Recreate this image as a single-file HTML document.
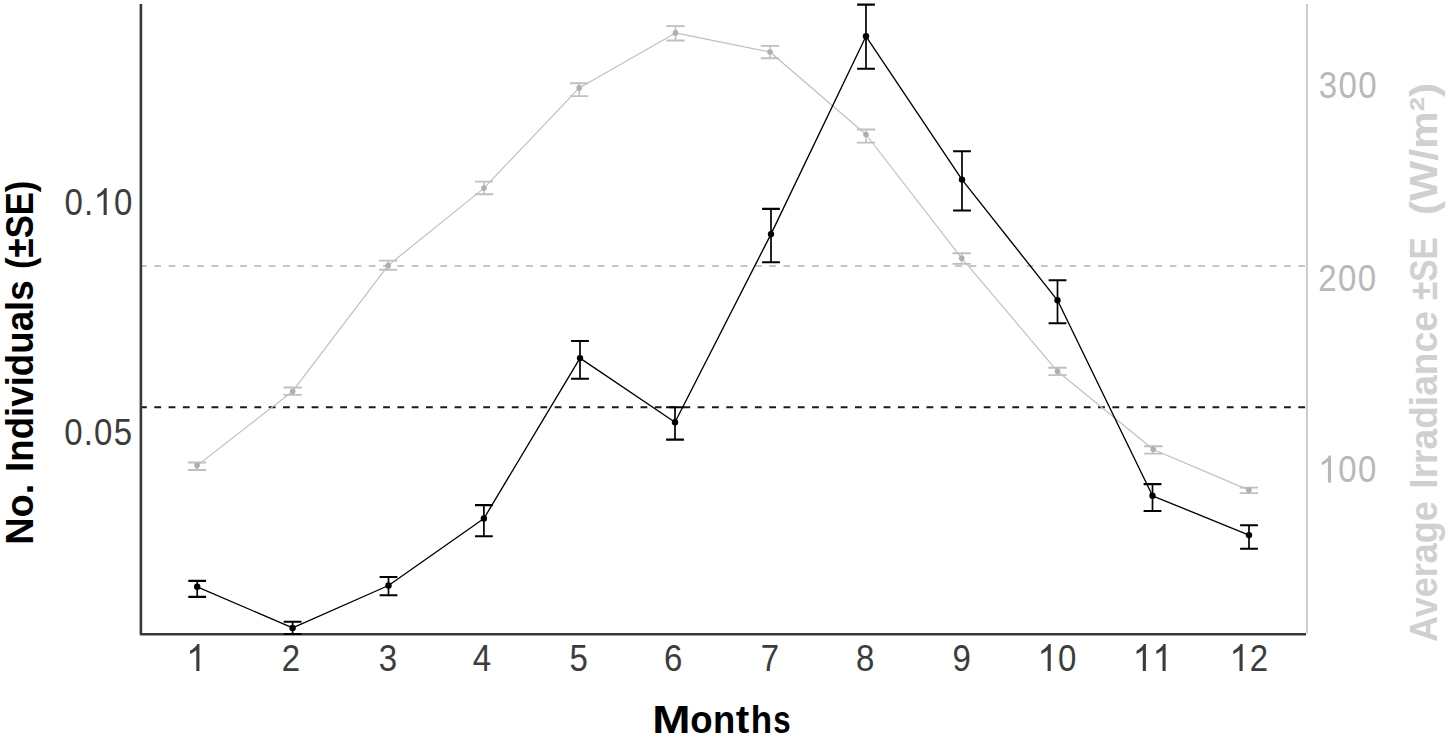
<!DOCTYPE html>
<html><head><meta charset="utf-8"><style>
html,body{margin:0;padding:0;background:#fff;}
svg{display:block;}
text{font-family:"Liberation Sans",sans-serif;}
</style></head><body>
<svg width="1449" height="737" viewBox="0 0 1449 737">
<rect width="1449" height="737" fill="#fff"/>
<line x1="140" y1="266" x2="1306" y2="266" stroke="#c6c6c6" stroke-width="2" stroke-dasharray="6.8 7.5"/>
<line x1="140" y1="407.2" x2="1306" y2="407.2" stroke="#1a1a1a" stroke-width="2" stroke-dasharray="6.8 7.5"/>
<polyline fill="none" stroke="#c0c0c0" stroke-width="1.2" stroke-linejoin="round" points="197,465.6 292.7,391.2 388.2,265.4 484,188.1 579.2,87.9 675.5,32.9 770,52 866,134.5 961.7,258.2 1057.5,371.3 1153.3,449.5 1248.9,490.1"/>
<path fill="none" stroke="#c0c0c0" stroke-width="1.5" d="M197 462.5V470M292.7 387.5V394.9M388.2 260.6V269.7M484 181.6V194.3M579.2 83.3V96.1M675.5 26.1V40.5M770 45.9V58.3M866 129.5V142.6M961.7 253.3V263.9M1057.5 367.7V375.1M1153.3 446.3V453.6M1248.9 487.6V493.1"/>
<path fill="none" stroke="#c0c0c0" stroke-width="1.9" d="M187.8 462.5H206.2M187.8 470H206.2M283.5 387.5H301.9M283.5 394.9H301.9M379 260.6H397.4M379 269.7H397.4M474.8 181.6H493.2M474.8 194.3H493.2M570 83.3H588.4M570 96.1H588.4M666.3 26.1H684.7M666.3 40.5H684.7M760.8 45.9H779.2M760.8 58.3H779.2M856.8 129.5H875.2M856.8 142.6H875.2M952.5 253.3H970.9M952.5 263.9H970.9M1048.3 367.7H1066.7M1048.3 375.1H1066.7M1144.1 446.3H1162.5M1144.1 453.6H1162.5M1239.7 487.6H1258.1M1239.7 493.1H1258.1"/>
<circle cx="197" cy="465.6" r="2.8" fill="#afafaf"/>
<circle cx="292.7" cy="391.2" r="2.8" fill="#afafaf"/>
<circle cx="388.2" cy="265.4" r="2.8" fill="#afafaf"/>
<circle cx="484" cy="188.1" r="2.8" fill="#afafaf"/>
<circle cx="579.2" cy="87.9" r="2.8" fill="#afafaf"/>
<circle cx="675.5" cy="32.9" r="2.8" fill="#afafaf"/>
<circle cx="770" cy="52" r="2.8" fill="#afafaf"/>
<circle cx="866" cy="134.5" r="2.8" fill="#afafaf"/>
<circle cx="961.7" cy="258.2" r="2.8" fill="#afafaf"/>
<circle cx="1057.5" cy="371.3" r="2.8" fill="#afafaf"/>
<circle cx="1153.3" cy="449.5" r="2.8" fill="#afafaf"/>
<circle cx="1248.9" cy="490.1" r="2.8" fill="#afafaf"/>
<line x1="1306.9" y1="4" x2="1306.9" y2="633.5" stroke="#cbcbcb" stroke-width="2"/>
<path d="M140.9 4V634.25H1306" fill="none" stroke="#383838" stroke-width="2.6" stroke-linejoin="round"/>
<polyline fill="none" stroke="#000" stroke-width="1.35" stroke-linejoin="round" points="197.2,586.8 292.6,627.9 388.5,585.5 483.9,518.5 580,358.1 675,422.3 771,234.1 866,36.3 962,179.6 1057.5,300.3 1152.5,495.8 1249,535.1"/>
<path fill="none" stroke="#000" stroke-width="1.7" d="M197.2 580.9V596.9M292.6 621.7V634M388.5 577V595.2M483.9 505.1V536.3M580 341V378.7M675 407.2V439.6M771 208.9V262.3M866 4.6V68.7M962 151.2V210.5M1057.5 280.2V323.3M1152.5 484.1V511M1249 525.2V548.7"/>
<path fill="none" stroke="#000" stroke-width="2.1" d="M188.3 580.9H206.1M188.3 596.9H206.1M283.7 621.7H301.5M283.7 634H301.5M379.6 577H397.4M379.6 595.2H397.4M475 505.1H492.8M475 536.3H492.8M571.1 341H588.9M571.1 378.7H588.9M666.1 407.2H683.9M666.1 439.6H683.9M762.1 208.9H779.9M762.1 262.3H779.9M857.1 4.6H874.9M857.1 68.7H874.9M953.1 151.2H970.9M953.1 210.5H970.9M1048.6 280.2H1066.4M1048.6 323.3H1066.4M1143.6 484.1H1161.4M1143.6 511H1161.4M1240.1 525.2H1257.9M1240.1 548.7H1257.9"/>
<circle cx="197.2" cy="586.8" r="3.2" fill="#000"/>
<circle cx="292.6" cy="627.9" r="3.2" fill="#000"/>
<circle cx="388.5" cy="585.5" r="3.2" fill="#000"/>
<circle cx="483.9" cy="518.5" r="3.2" fill="#000"/>
<circle cx="580" cy="358.1" r="3.2" fill="#000"/>
<circle cx="675" cy="422.3" r="3.2" fill="#000"/>
<circle cx="771" cy="234.1" r="3.2" fill="#000"/>
<circle cx="866" cy="36.3" r="3.2" fill="#000"/>
<circle cx="962" cy="179.6" r="3.2" fill="#000"/>
<circle cx="1057.5" cy="300.3" r="3.2" fill="#000"/>
<circle cx="1152.5" cy="495.8" r="3.2" fill="#000"/>
<circle cx="1249" cy="535.1" r="3.2" fill="#000"/>
<g transform="translate(186.2 671) scale(1 1.06)" fill="#3c3c3c"><path transform="translate(0 0) scale(0.017334 -0.017334)" d="M763 0H583V1147C540 1106 483 1065 413 1024C342 983 279 952 223 931V1105C324 1152 412 1210 487 1277C562 1344 615 1407 646 1466H763Z"/></g>
<g transform="translate(280.93 671) scale(1 1.06)" fill="#3c3c3c"><text transform="translate(9.87 0) scale(0.93 1)" x="-9.87" y="0" font-size="35.5">2</text></g>
<g transform="translate(377.93 671) scale(1 1.06)" fill="#3c3c3c"><text transform="translate(9.87 0) scale(0.93 1)" x="-9.87" y="0" font-size="35.5">3</text></g>
<g transform="translate(472.13 671) scale(1 1.06)" fill="#3c3c3c"><text transform="translate(9.87 0) scale(0.93 1)" x="-9.87" y="0" font-size="35.5">4</text></g>
<g transform="translate(568.76 671) scale(1 1.06)" fill="#3c3c3c"><text transform="translate(9.87 0) scale(0.93 1)" x="-9.87" y="0" font-size="35.5">5</text></g>
<g transform="translate(663.42 671) scale(1 1.06)" fill="#3c3c3c"><text transform="translate(9.87 0) scale(0.93 1)" x="-9.87" y="0" font-size="35.5">6</text></g>
<g transform="translate(760.11 671) scale(1 1.06)" fill="#3c3c3c"><text transform="translate(9.87 0) scale(0.93 1)" x="-9.87" y="0" font-size="35.5">7</text></g>
<g transform="translate(855.33 671) scale(1 1.06)" fill="#3c3c3c"><text transform="translate(9.87 0) scale(0.93 1)" x="-9.87" y="0" font-size="35.5">8</text></g>
<g transform="translate(951.74 671) scale(1 1.06)" fill="#3c3c3c"><text transform="translate(9.87 0) scale(0.93 1)" x="-9.87" y="0" font-size="35.5">9</text></g>
<g transform="translate(1037.51 671) scale(1 1.06)" fill="#3c3c3c"><path transform="translate(0 0) scale(0.017334 -0.017334)" d="M763 0H583V1147C540 1106 483 1065 413 1024C342 983 279 952 223 931V1105C324 1152 412 1210 487 1277C562 1344 615 1407 646 1466H763Z"/><text transform="translate(29.62 0) scale(0.93 1)" x="-9.87" y="0" font-size="35.5">0</text></g>
<g transform="translate(1132.68 671) scale(1 1.06)" fill="#3c3c3c"><path transform="translate(0 0) scale(0.017334 -0.017334)" d="M763 0H583V1147C540 1106 483 1065 413 1024C342 983 279 952 223 931V1105C324 1152 412 1210 487 1277C562 1344 615 1407 646 1466H763Z"/><path transform="translate(19.74 0) scale(0.017334 -0.017334)" d="M763 0H583V1147C540 1106 483 1065 413 1024C342 983 279 952 223 931V1105C324 1152 412 1210 487 1277C562 1344 615 1407 646 1466H763Z"/></g>
<g transform="translate(1229.4 671) scale(1 1.06)" fill="#3c3c3c"><path transform="translate(0 0) scale(0.017334 -0.017334)" d="M763 0H583V1147C540 1106 483 1065 413 1024C342 983 279 952 223 931V1105C324 1152 412 1210 487 1277C562 1344 615 1407 646 1466H763Z"/><text transform="translate(29.62 0) scale(0.93 1)" x="-9.87" y="0" font-size="35.5">2</text></g>
<g transform="translate(63.89 214.9) scale(1 1.06)" fill="#3c3c3c"><text transform="translate(9.87 0) scale(0.93 1)" x="-9.87" y="0" font-size="35.5">0</text><text transform="translate(24.67 0) scale(0.93 1)" x="-4.93" y="0" font-size="35.5">.</text><path transform="translate(29.61 0) scale(0.017334 -0.017334)" d="M763 0H583V1147C540 1106 483 1065 413 1024C342 983 279 952 223 931V1105C324 1152 412 1210 487 1277C562 1344 615 1407 646 1466H763Z"/><text transform="translate(59.22 0) scale(0.93 1)" x="-9.87" y="0" font-size="35.5">0</text></g>
<g transform="translate(63.58 445.2) scale(1 1.06)" fill="#3c3c3c"><text transform="translate(9.87 0) scale(0.93 1)" x="-9.87" y="0" font-size="35.5">0</text><text transform="translate(24.67 0) scale(0.93 1)" x="-4.93" y="0" font-size="35.5">.</text><text transform="translate(39.48 0) scale(0.93 1)" x="-9.87" y="0" font-size="35.5">0</text><text transform="translate(59.22 0) scale(0.93 1)" x="-9.87" y="0" font-size="35.5">5</text></g>
<g transform="translate(1317.95 98) scale(1 1.06)" fill="#b8b8b8"><text transform="translate(9.87 0) scale(0.93 1)" x="-9.87" y="0" font-size="35.5">3</text><text transform="translate(29.62 0) scale(0.93 1)" x="-9.87" y="0" font-size="35.5">0</text><text transform="translate(49.36 0) scale(0.93 1)" x="-9.87" y="0" font-size="35.5">0</text></g>
<g transform="translate(1317.65 291.4) scale(1 1.06)" fill="#b8b8b8"><text transform="translate(9.87 0) scale(0.93 1)" x="-9.87" y="0" font-size="35.5">2</text><text transform="translate(29.62 0) scale(0.93 1)" x="-9.87" y="0" font-size="35.5">0</text><text transform="translate(49.36 0) scale(0.93 1)" x="-9.87" y="0" font-size="35.5">0</text></g>
<g transform="translate(1317.83 482.4) scale(1 1.06)" fill="#b8b8b8"><path transform="translate(0 0) scale(0.017334 -0.017334)" d="M763 0H583V1147C540 1106 483 1065 413 1024C342 983 279 952 223 931V1105C324 1152 412 1210 487 1277C562 1344 615 1407 646 1466H763Z"/><text transform="translate(29.62 0) scale(0.93 1)" x="-9.87" y="0" font-size="35.5">0</text><text transform="translate(49.36 0) scale(0.93 1)" x="-9.87" y="0" font-size="35.5">0</text></g>
<text transform="translate(652.13 733.4) scale(1.1924 1)" font-size="38.5" font-weight="bold" fill="#000">M</text><text transform="translate(690.17 733.4) scale(0.9508 1)" font-size="38.5" font-weight="bold" fill="#000">o</text><text transform="translate(713.1 733.4) scale(0.9466 1)" font-size="38.5" font-weight="bold" fill="#000">n</text><text transform="translate(735.71 733.4) scale(1.0521 1)" font-size="38.5" font-weight="bold" fill="#000">t</text><text transform="translate(750.65 733.4) scale(0.9110 1)" font-size="38.5" font-weight="bold" fill="#000">h</text><text transform="translate(773.3 733.4) scale(0.8117 1)" font-size="38.5" font-weight="bold" fill="#000">s</text>
<text transform="translate(33.1 544.84) rotate(-90) scale(0.9843 1)" font-size="38.5" font-weight="bold" fill="#000">No.</text>
<text transform="translate(33.1 471.95) rotate(-90) scale(0.9531 1)" font-size="38.5" font-weight="bold" fill="#000">Individuals</text>
<text transform="translate(33.1 268.93) rotate(-90) scale(0.9004 1)" font-size="38.5" font-weight="bold" fill="#000">(±SE)</text>
<text transform="translate(1437 641.9) rotate(-90) scale(0.9360 1)" font-size="38.5" font-weight="bold" fill="#d0d0d0">Average</text>
<text transform="translate(1437 488.68) rotate(-90) scale(0.9648 1)" font-size="38.5" font-weight="bold" fill="#d0d0d0">Irradiance</text>
<text transform="translate(1437 300.1) rotate(-90) scale(0.8692 1)" font-size="38.5" font-weight="bold" fill="#d0d0d0">±SE</text>
<text transform="translate(1437 215.02) rotate(-90) scale(1.1036 1)" font-size="38.5" font-weight="bold" fill="#d0d0d0">(W/m²)</text>
</svg>
</body></html>
